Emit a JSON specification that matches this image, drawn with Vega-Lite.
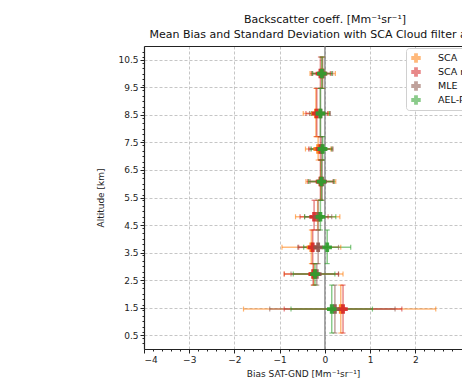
{
  "$schema": "https://vega.github.io/schema/vega-lite/v6.json",
  "autosize": "none",
  "width": 318,
  "height": 303,
  "padding": {"left": 144, "top": 46, "right": 0, "bottom": 37},
  "background": "white",
  "title": {
    "text": ["Backscatter coeff. [Mm⁻¹sr⁻¹]", "Mean Bias and Standard Deviation with SCA Cloud filter applied"],
    "anchor": "middle",
    "dx": 22,
    "offset": 5,
    "font": "DejaVu Sans",
    "fontSize": 11,
    "fontWeight": "normal",
    "color": "#111",
    "lineHeight": 15
  },
  "config": {
    "view": {"stroke": null},
    "font": "DejaVu Sans",
    "axis": {
      "labelFont": "DejaVu Sans",
      "titleFont": "DejaVu Sans",
      "labelFontSize": 9,
      "titleFontSize": 9,
      "titleFontWeight": "normal",
      "labelColor": "#222",
      "titleColor": "#222",
      "domainColor": "#222",
      "tickColor": "#222",
      "gridColor": "#b8b8b8",
      "gridDash": [3, 2],
      "gridWidth": 0.8
    }
  },
  "data": {
    "values": [
      {"series": "SCA", "alt": 1.45, "x": 0.35, "xmin": -1.8, "xmax": 2.45, "ymin": 0.58, "ymax": 2.32},
      {"series": "SCA", "alt": 2.72, "x": -0.25, "xmin": -0.9, "xmax": 0.4, "ymin": 2.32, "ymax": 3.1},
      {"series": "SCA", "alt": 3.69, "x": -0.3, "xmin": -0.95, "xmax": 0.35, "ymin": 3.1, "ymax": 4.32},
      {"series": "SCA", "alt": 4.8, "x": -0.16, "xmin": -0.65, "xmax": 0.33, "ymin": 4.32, "ymax": 5.4},
      {"series": "SCA", "alt": 6.08, "x": -0.09, "xmin": -0.42, "xmax": 0.24, "ymin": 5.4, "ymax": 6.86},
      {"series": "SCA", "alt": 7.26, "x": -0.15, "xmin": -0.43, "xmax": 0.13, "ymin": 6.86, "ymax": 7.71},
      {"series": "SCA", "alt": 8.55, "x": -0.2, "xmin": -0.48, "xmax": 0.08, "ymin": 7.71, "ymax": 9.46},
      {"series": "SCA", "alt": 10.0, "x": -0.06, "xmin": -0.33, "xmax": 0.23, "ymin": 9.46, "ymax": 10.6},
      {"series": "SCA mid-bin", "alt": 1.45, "x": 0.4, "xmin": -0.9, "xmax": 1.7, "ymin": 0.58, "ymax": 2.32},
      {"series": "SCA mid-bin", "alt": 2.72, "x": -0.26, "xmin": -0.9, "xmax": 0.3, "ymin": 2.32, "ymax": 3.1},
      {"series": "SCA mid-bin", "alt": 3.69, "x": -0.27, "xmin": -0.58, "xmax": 0.05, "ymin": 3.1, "ymax": 4.32},
      {"series": "SCA mid-bin", "alt": 4.8, "x": -0.24, "xmin": -0.55, "xmax": 0.07, "ymin": 4.32, "ymax": 5.4},
      {"series": "SCA mid-bin", "alt": 6.08, "x": -0.1, "xmin": -0.38, "xmax": 0.18, "ymin": 5.4, "ymax": 6.86},
      {"series": "SCA mid-bin", "alt": 7.26, "x": -0.1, "xmin": -0.36, "xmax": 0.16, "ymin": 6.86, "ymax": 7.71},
      {"series": "SCA mid-bin", "alt": 8.55, "x": -0.18, "xmin": -0.42, "xmax": 0.06, "ymin": 7.71, "ymax": 9.46},
      {"series": "SCA mid-bin", "alt": 10.0, "x": -0.1, "xmin": -0.3, "xmax": 0.12, "ymin": 9.46, "ymax": 10.6},
      {"series": "MLE", "alt": 1.45, "x": 0.22, "xmin": -1.22, "xmax": 1.55, "ymin": 0.58, "ymax": 2.32},
      {"series": "MLE", "alt": 2.72, "x": -0.18, "xmin": -0.75, "xmax": 0.3, "ymin": 2.32, "ymax": 3.1},
      {"series": "MLE", "alt": 3.69, "x": -0.15, "xmin": -0.6, "xmax": 0.3, "ymin": 3.1, "ymax": 4.32},
      {"series": "MLE", "alt": 4.8, "x": -0.15, "xmin": -0.45, "xmax": 0.15, "ymin": 4.32, "ymax": 5.4},
      {"series": "MLE", "alt": 6.08, "x": -0.06, "xmin": -0.33, "xmax": 0.2, "ymin": 5.4, "ymax": 6.86},
      {"series": "MLE", "alt": 7.26, "x": -0.07, "xmin": -0.33, "xmax": 0.18, "ymin": 6.86, "ymax": 7.71},
      {"series": "MLE", "alt": 8.55, "x": -0.1, "xmin": -0.34, "xmax": 0.12, "ymin": 7.71, "ymax": 9.46},
      {"series": "MLE", "alt": 10.0, "x": -0.05, "xmin": -0.27, "xmax": 0.17, "ymin": 9.46, "ymax": 10.6},
      {"series": "AEL-PRO", "alt": 1.45, "x": 0.15, "xmin": -0.75, "xmax": 1.05, "ymin": 0.58, "ymax": 2.32},
      {"series": "AEL-PRO", "alt": 2.72, "x": -0.22, "xmin": -0.7, "xmax": 0.22, "ymin": 2.32, "ymax": 3.1},
      {"series": "AEL-PRO", "alt": 3.69, "x": 0.05, "xmin": -0.47, "xmax": 0.57, "ymin": 3.1, "ymax": 4.32},
      {"series": "AEL-PRO", "alt": 4.8, "x": -0.1, "xmin": -0.45, "xmax": 0.24, "ymin": 4.32, "ymax": 5.4},
      {"series": "AEL-PRO", "alt": 6.08, "x": -0.08, "xmin": -0.36, "xmax": 0.2, "ymin": 5.4, "ymax": 6.86},
      {"series": "AEL-PRO", "alt": 7.26, "x": -0.05, "xmin": -0.3, "xmax": 0.15, "ymin": 6.86, "ymax": 7.71},
      {"series": "AEL-PRO", "alt": 8.55, "x": -0.1, "xmin": -0.3, "xmax": 0.1, "ymin": 7.71, "ymax": 9.46},
      {"series": "AEL-PRO", "alt": 10.0, "x": -0.07, "xmin": -0.28, "xmax": 0.15, "ymin": 9.46, "ymax": 10.6}
    ]
  },
  "resolve": {"axis": {"x": "independent", "y": "independent"}},
  "layer": [
    {
      "data": {"values": [{"zero": 0}]},
      "mark": {"type": "rule", "color": "#777", "strokeWidth": 1.2},
      "encoding": {
        "x": {"field": "zero", "type": "quantitative",
          "scale": {"domain": [-4, 3.03], "nice": false, "zero": false},
          "axis": {"orient": "bottom", "values": [-4, -3, -2, -1, 0, 1, 2], "format": "d", "tickSize": 4, "labelPadding": 2, "title": "Bias SAT-GND [Mm⁻¹sr⁻¹]", "titlePadding": 5, "grid": true, "domainWidth": 1}
        }
      }
    },
    {
      "mark": {"type": "rule", "strokeWidth": 1.5, "opacity": 0.55},
      "encoding": {
        "x": {"field": "xmin", "type": "quantitative",
          "axis": {"orient": "bottom", "values": [-3.8, -3.6, -3.4, -3.2, -2.8, -2.6, -2.4, -2.2, -1.8, -1.6, -1.4, -1.2, -0.8, -0.6, -0.4, -0.2, 0.2, 0.4, 0.6, 0.8, 1.2, 1.4, 1.6, 1.8, 2.2, 2.4, 2.6, 2.8], "labels": false, "domain": false, "grid": false, "tickSize": 2, "title": null}},
        "x2": {"field": "xmax"},
        "y": {"field": "alt", "type": "quantitative",
          "scale": {"domain": [0, 11], "nice": false, "zero": false},
          "axis": {"orient": "left", "values": [0.5, 1.5, 2.5, 3.5, 4.5, 5.5, 6.5, 7.5, 8.5, 9.5, 10.5], "format": ".1f", "tickSize": 4, "labelPadding": 2, "title": "Altitude [km]", "titlePadding": 12, "grid": true, "domainWidth": 1.2}
        },
        "color": {"field": "series", "type": "nominal",
          "scale": {"domain": ["SCA", "SCA mid-bin", "MLE", "AEL-PRO"], "range": ["#ff7f0e", "#d62728", "#8c564b", "#2ca02c"]},
          "legend": {"orient": "none", "legendX": 262, "legendY": 2, "title": null, "symbolType": "cross", "symbolSize": 90, "symbolOpacity": 0.9, "symbolStrokeWidth": 0, "labelFont": "DejaVu Sans", "labelFontSize": 9.5, "labelColor": "#111", "labelOffset": 17, "rowPadding": 4, "padding": 5, "fillColor": "white", "strokeColor": "#d0d0d0", "cornerRadius": 3, "labelLimit": 200}}
      }
    },
    {
      "mark": {"type": "rule", "strokeWidth": 1.5, "opacity": 0.55},
      "encoding": {
        "x": {"field": "x", "type": "quantitative",
          "axis": {"orient": "top", "labels": false, "ticks": false, "grid": false, "domain": true, "domainWidth": 1, "title": null}},
        "y": {"field": "ymin", "type": "quantitative",
          "axis": {"orient": "left", "values": [0.2, 0.4, 0.6, 0.8, 1.0, 1.2, 1.4, 1.6, 1.8, 2.0, 2.2, 2.4, 2.6, 2.8, 3.0, 3.2, 3.4, 3.6, 3.8, 4.0, 4.2, 4.4, 4.6, 4.8, 5.0, 5.2, 5.4, 5.6, 5.8, 6.0, 6.2, 6.4, 6.6, 6.8, 7.0, 7.2, 7.4, 7.6, 7.8, 8.0, 8.2, 8.4, 8.6, 8.8, 9.0, 9.2, 9.4, 9.6, 9.8, 10.0, 10.2, 10.4, 10.6, 10.8], "labels": false, "domain": false, "grid": false, "tickSize": 2, "title": null}},
        "y2": {"field": "ymax"},
        "color": {"field": "series", "type": "nominal"}
      }
    },
    {
      "mark": {"type": "tick", "orient": "vertical", "size": 5, "thickness": 1.2, "opacity": 0.6},
      "encoding": {
        "x": {"field": "xmin", "type": "quantitative", "axis": null},
        "y": {"field": "alt", "type": "quantitative", "axis": null},
        "color": {"field": "series", "type": "nominal"}
      }
    },
    {
      "mark": {"type": "tick", "orient": "vertical", "size": 5, "thickness": 1.2, "opacity": 0.6},
      "encoding": {
        "x": {"field": "xmax", "type": "quantitative", "axis": null},
        "y": {"field": "alt", "type": "quantitative", "axis": null},
        "color": {"field": "series", "type": "nominal"}
      }
    },
    {
      "mark": {"type": "tick", "orient": "horizontal", "size": 5, "thickness": 1.2, "opacity": 0.6},
      "encoding": {
        "x": {"field": "x", "type": "quantitative", "axis": null},
        "y": {"field": "ymin", "type": "quantitative", "axis": null},
        "color": {"field": "series", "type": "nominal"}
      }
    },
    {
      "mark": {"type": "tick", "orient": "horizontal", "size": 5, "thickness": 1.2, "opacity": 0.6},
      "encoding": {
        "x": {"field": "x", "type": "quantitative", "axis": null},
        "y": {"field": "ymax", "type": "quantitative", "axis": null},
        "color": {"field": "series", "type": "nominal"}
      }
    },
    {
      "mark": {"type": "point", "shape": "cross", "filled": true, "size": 90, "opacity": 0.9},
      "encoding": {
        "x": {"field": "x", "type": "quantitative", "axis": null},
        "y": {"field": "alt", "type": "quantitative", "axis": null},
        "color": {"field": "series", "type": "nominal"}
      }
    }
  ]
}
